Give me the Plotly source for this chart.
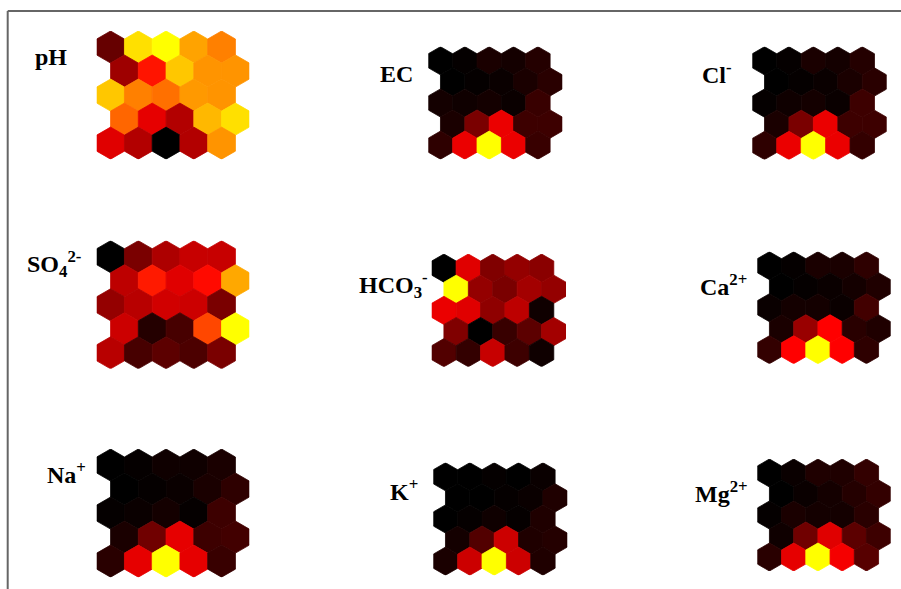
import numpy as np
import plotly.graph_objects as go
from plotly.colors import sample_colorscale

# ---------------- data (normalized component planes, rows top->bottom) -------------
labels = ["pH", "EC", "Cl<sup>-</sup>",
          "SO<sub>4</sub><sup>2-</sup>", "HCO<sub>3</sub><sup>-</sup>", "Ca<sup>2+</sup>",
          "Na<sup>+</sup>", "K<sup>+</sup>", "Mg<sup>2+</sup>"]

pH = [[0.20, 0.94, 1.00, 0.82, 0.75],
      [0.31, 0.54, 0.89, 0.79, 0.79],
      [0.89, 0.75, 0.72, 0.80, 0.79],
      [0.70, 0.45, 0.35, 0.86, 0.94],
      [0.44, 0.35, 0.00, 0.35, 0.79]]
EC = [[0.00, 0.01, 0.05, 0.04, 0.07],
      [0.00, 0.01, 0.02, 0.05, 0.08],
      [0.04, 0.03, 0.04, 0.02, 0.11],
      [0.05, 0.24, 0.46, 0.12, 0.12],
      [0.09, 0.46, 1.00, 0.46, 0.11]]
Cl = [[0.00, 0.01, 0.05, 0.04, 0.07],
      [0.00, 0.01, 0.02, 0.05, 0.08],
      [0.01, 0.03, 0.04, 0.02, 0.12],
      [0.05, 0.24, 0.46, 0.12, 0.12],
      [0.09, 0.46, 1.00, 0.46, 0.10]]
SO4 = [[0.00, 0.24, 0.34, 0.39, 0.39],
       [0.37, 0.55, 0.44, 0.52, 0.83],
       [0.29, 0.36, 0.41, 0.40, 0.24],
       [0.40, 0.07, 0.14, 0.64, 1.00],
       [0.36, 0.14, 0.18, 0.15, 0.24]]
HCO3 = [[0.00, 0.44, 0.25, 0.29, 0.27],
        [1.00, 0.29, 0.24, 0.32, 0.29],
        [0.46, 0.44, 0.28, 0.37, 0.03],
        [0.25, 0.00, 0.11, 0.18, 0.32],
        [0.16, 0.10, 0.39, 0.12, 0.03]]
Ca = [[0.00, 0.01, 0.05, 0.05, 0.09],
      [0.00, 0.01, 0.02, 0.04, 0.06],
      [0.02, 0.04, 0.04, 0.02, 0.13],
      [0.05, 0.30, 0.50, 0.08, 0.06],
      [0.10, 0.50, 1.00, 0.50, 0.09]]
Na = [[0.00, 0.01, 0.03, 0.03, 0.05],
      [0.00, 0.01, 0.02, 0.05, 0.09],
      [0.01, 0.02, 0.04, 0.01, 0.12],
      [0.05, 0.22, 0.45, 0.12, 0.13],
      [0.08, 0.45, 1.00, 0.45, 0.11]]
K = [[0.00, 0.00, 0.01, 0.00, 0.02],
     [0.00, 0.00, 0.01, 0.02, 0.06],
     [0.00, 0.01, 0.03, 0.01, 0.06],
     [0.04, 0.16, 0.40, 0.06, 0.07],
     [0.05, 0.40, 1.00, 0.40, 0.06]]
Mg = [[0.00, 0.02, 0.06, 0.06, 0.10],
      [0.00, 0.02, 0.04, 0.07, 0.10],
      [0.01, 0.05, 0.04, 0.04, 0.08],
      [0.03, 0.22, 0.44, 0.18, 0.12],
      [0.08, 0.45, 1.00, 0.48, 0.17]]
planes = [pH, EC, Cl, SO4, HCO3, Ca, Na, K, Mg]

# ---------------- layout (pixels) ----------------
W, H = 901, 589
# panel left, top, width in px
boxes = [(96.7, 31.0, 152.6), (428.3, 46.7, 134.0), (752.3, 46.7, 134.4),
         (96.7, 240.7, 152.6), (431.7, 254.0, 134.3), (757.3, 251.7, 133.4),
         (96.7, 449.0, 152.6), (433.3, 462.7, 134.0), (757.3, 459.0, 133.4)]
# label left x, vertical centre y (px)
label_pos = [(33, 57), (378, 74), (700, 73),
             (25, 264), (357, 285), (698, 285),
             (45, 473), (388, 490), (693, 492)]

hot = [[0.0, "rgb(0,0,0)"], [0.5, "rgb(255,0,0)"], [1.0, "rgb(255,255,0)"]]
R = 1 / np.sqrt(3)          # hexagon radius for unit width
ang = np.deg2rad(np.array([90, 150, 210, 270, 330, 30, 90]))

fig = go.Figure()
layout_axes = {}
annotations = []
for i, (vals, box, lab, lp) in enumerate(zip(planes, boxes, labels, label_pos)):
    n = i + 1
    xa = "x" if n == 1 else f"x{n}"
    ya = "y" if n == 1 else f"y{n}"
    nrows, ncols = len(vals), len(vals[0])
    for r in range(nrows):
        for c in range(ncols):
            v = vals[r][c]
            cx = c + 0.5 * (r % 2)
            cy = -r * 1.5 * R
            col = sample_colorscale(hot, [v])[0]
            fig.add_trace(go.Scatter(
                x=cx + R * np.cos(ang), y=cy + R * np.sin(ang),
                mode="lines", fill="toself", fillcolor=col,
                line=dict(color=col, width=0.8),
                hoverinfo="text", text=f"{v:.2f}", showlegend=False,
                xaxis=xa, yaxis=ya))
    left, top, w = box
    xr = [-0.5, ncols]
    yr = [-(nrows - 1) * 1.5 * R - R, R]
    h = w * (yr[1] - yr[0]) / (xr[1] - xr[0])
    key = "" if n == 1 else str(n)
    layout_axes[f"xaxis{key}"] = dict(domain=[left / W, (left + w) / W], range=xr,
                                      visible=False, fixedrange=True)
    layout_axes[f"yaxis{key}"] = dict(domain=[1 - (top + h) / H, 1 - top / H], range=yr,
                                      visible=False, fixedrange=True)
    annotations.append(dict(text=f"<b>{lab}</b>", x=lp[0] / W, y=1 - lp[1] / H,
                            xref="paper", yref="paper", xanchor="left", yanchor="middle",
                            showarrow=False,
                            font=dict(family="Liberation Serif", size=24, color="black")))

frame_x, frame_y = 7.7, 11
shapes = [
    dict(type="line", xref="paper", yref="paper", x0=frame_x / W, x1=1.0,
         y0=1 - frame_y / H, y1=1 - frame_y / H, line=dict(color="#666666", width=2)),
    dict(type="line", xref="paper", yref="paper", x0=frame_x / W, x1=frame_x / W,
         y0=1 - frame_y / H, y1=0, line=dict(color="#666666", width=2)),
]

fig.update_layout(width=W, height=H, margin=dict(l=0, r=0, t=0, b=0),
                  paper_bgcolor="white", plot_bgcolor="white",
                  annotations=annotations, shapes=shapes, **layout_axes)
fig.write_html("out.html", config={"displayModeBar": False},
               post_script="document.body.style.margin='0';document.body.style.overflow='hidden';")
